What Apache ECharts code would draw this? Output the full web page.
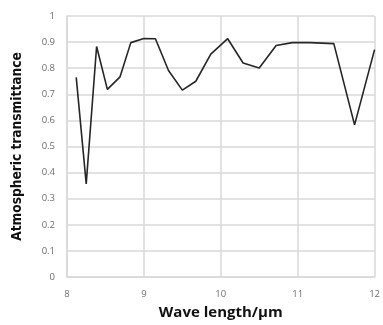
<!DOCTYPE html>
<html><head><meta charset="utf-8">
<script src="https://cdn.jsdelivr.net/npm/echarts@6/dist/echarts.min.js"></script>
<style>html,body{margin:0;padding:0;background:#fff}#c{width:383px;height:325px}</style>
</head><body><div id="c"></div>
<script>
const wavelength = [8.12, 8.25, 8.385, 8.525, 8.69, 8.83, 9.0, 9.15, 9.32, 9.5, 9.675, 9.87, 10.09, 10.29, 10.5, 10.72, 10.93, 11.16, 11.47, 11.74, 12.0];
const transmittance = [0.765, 0.357, 0.883, 0.719, 0.767, 0.898, 0.914, 0.913, 0.791, 0.716, 0.750, 0.854, 0.913, 0.820, 0.801, 0.887, 0.898, 0.898, 0.894, 0.583, 0.871];
const xTitle = 'Wave length/μm';
const yTitle = 'Atmospheric transmittance';

const chart = echarts.init(document.getElementById('c'));
chart.setOption({
  animation: false,
  grid: {left: 67, right: 4, top: 16, bottom: 46, containLabel: false},
  xAxis: {
    type: 'value', min: 8, max: 12, interval: 1,
    name: xTitle, nameLocation: 'middle', nameGap: 28,
    nameTextStyle: {fontFamily: 'Open Sans', fontWeight: 'bold', fontSize: 15, color: '#111'},
    axisLine: {show: true, lineStyle: {color: '#d9d9d9', width: 1.5}},
    axisTick: {show: false},
    splitLine: {show: true, lineStyle: {color: '#d9d9d9', width: 1.5}},
    axisLabel: {fontFamily: 'Open Sans', fontSize: 9.5, color: '#6e6e6e', margin: 12}
  },
  yAxis: {
    type: 'value', min: 0, max: 1, interval: 0.1,
    name: yTitle, nameLocation: 'middle', nameGap: 43, nameRotate: 90,
    nameTextStyle: {fontFamily: '"DejaVu Sans Condensed", "Roboto Condensed", Roboto', fontWeight: 'bold', fontSize: 13.6, color: '#111'},
    axisLine: {show: true, lineStyle: {color: '#d9d9d9', width: 1.5}},
    axisTick: {show: false},
    splitLine: {show: true, lineStyle: {color: '#d9d9d9', width: 1.5}},
    axisLabel: {fontFamily: 'Open Sans', fontSize: 9.5, color: '#6e6e6e', margin: 12,
      formatter: v => (Math.round(v*10)/10).toString()}
  },
  series: [{
    type: 'line', data: wavelength.map((x, i) => [x, transmittance[i]]),
    symbol: 'none', lineStyle: {color: '#262626', width: 1.6}
  }]
});
</script></body></html>
